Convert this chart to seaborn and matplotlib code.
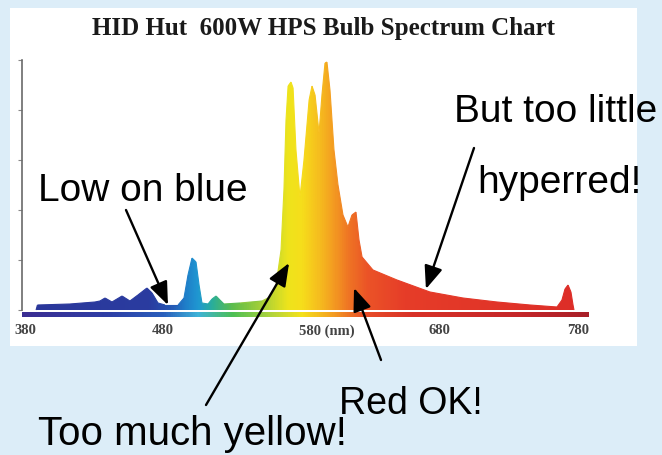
import matplotlib.pyplot as plt
import numpy as np
import seaborn as sns
from matplotlib.collections import LineCollection
from matplotlib.colors import LinearSegmentedColormap

TITLE = "HID Hut  600W HPS Bulb Spectrum Chart"

# spectrum (nm, relative intensity)
WAVELENGTHS = [
    388, 389, 412.5, 430.6, 434.2, 437.9, 442.9, 450.2, 455.9, 461.7,
    468.2, 471.9, 476.2, 481.3, 490.7, 495.0, 497.9, 500.8, 503.7, 505.9,
    508.0, 512.4, 515.3, 518.2, 521.0, 523.9, 535.5, 551.4, 557.2, 561.6,
    565.2, 567.3, 568.8, 570.3, 572.4, 573.9, 576.0, 578.9, 581.8, 585.5,
    587.6, 589.8, 592.7, 594.8, 597.0, 598.4, 600.6, 603.5, 606.4, 610.0,
    613.6, 616.5, 619.4, 621.6, 623.8, 631.7, 649.1, 672.9, 696.8, 721.4,
    745.3, 764.8, 768.4, 770.6, 772.8, 774.9, 776.4, 777.1,
]
INTENSITY = [
    0, 5, 6, 8, 9, 12, 8, 14, 9, 15,
    22, 17, 7, 5, 5, 12, 35, 52, 48, 25,
    7, 6, 11, 14, 10, 6, 7, 9, 13, 25,
    60, 120, 190, 224, 228, 222, 160, 113, 150, 210,
    224, 215, 177, 215, 247, 248, 220, 160, 125, 95,
    83, 95, 98, 70, 53, 40, 30, 18, 12, 8,
    5, 3, 10, 21, 25, 18, 5, 0,
]

TICK_VALUES = [380, 480, 580, 680, 780]
TICK_LABELS = ["380", "480", "580 (nm)", "680", "780"]
LEVEL_TICKS = [0, 50, 100, 150, 200, 250]

FILL_STOPS = [380, 470, 485, 495, 505, 515, 530, 555, 570, 580, 592, 602, 614, 628, 655, 790]
FILL_COLORS = ["#2b379a", "#2a3ca0", "#2556b3", "#1f7cc8", "#1f98d2", "#2aae9a",
               "#5dbd4c", "#b3d334", "#eee41c", "#f6de1b", "#f6bf1e", "#f4a021",
               "#ef7524", "#eb5327", "#e63d29", "#dc2c28"]
BAR_STOPS = [378, 440, 480, 505, 530, 560, 580, 600, 625, 660, 740, 788]
BAR_COLORS = ["#3b2d92", "#2f3fa6", "#2a5fbc", "#3fb3d8", "#4cbf55", "#b7d53a",
              "#f4e21b", "#f5a821", "#e9502a", "#d83228", "#c4262a", "#a81f28"]

ANNOTATIONS = ["Low on blue", "But too little", "hyperred!", "Red OK!", "Too much yellow!"]
ANNOT_POS = [(38, 254), (454, 333), (477, 262), (339, 41), (38, 10)]  # figure pixels
ANNOT_SIZE = [28, 28, 28, 27, 29]
ARROW_TIPS = [(483.4, 5), (571.0, 47), (618.0, 22), (670.0, 21)]  # data
ARROW_TAILS = [(126, 245), (206, 50), (381, 95), (474, 307)]  # figure pixels

BG_COLOR = "#dcedf8"
PX_PER_NM = 1.3825
W, H = 662, 455


def make_cmap(stops, colors):
    lo, hi = stops[0], stops[-1]
    return LinearSegmentedColormap.from_list(
        "spec", [((s - lo) / (hi - lo), c) for s, c in zip(stops, colors)]
    )


sns.set_style("white")
plt.rcParams["font.family"] = ["Liberation Sans", "DejaVu Sans"]

fig = plt.figure(figsize=(W / 100, H / 100), dpi=100)
fig.set_facecolor(BG_COLOR)
ax = fig.add_axes([10 / W, (H - 346) / H, 627 / W, 338 / H])
ax.set_facecolor("white")

# spectrum fill with wavelength gradient
fill_cmap = make_cmap(FILL_STOPS, FILL_COLORS)
poly = ax.fill(WAVELENGTHS, INTENSITY, facecolor="none", edgecolor="none")[0]
grad = np.linspace(0, 1, 800).reshape(1, -1)
img = ax.imshow(grad, cmap=fill_cmap, aspect="auto", interpolation="bilinear",
                extent=[FILL_STOPS[0], FILL_STOPS[-1], 0, 260], zorder=2)
img.set_clip_path(poly)
pts = np.column_stack([WAVELENGTHS, INTENSITY])
segs = np.stack([pts[:-1], pts[1:]], axis=1)
mids = (np.array(WAVELENGTHS[:-1]) + np.array(WAVELENGTHS[1:])) / 2
edge_colors = fill_cmap((mids - FILL_STOPS[0]) / (FILL_STOPS[-1] - FILL_STOPS[0]))
ax.add_collection(LineCollection(segs, colors=edge_colors, linewidths=0.8, zorder=2))

# rainbow bar under the spectrum
bar_cmap = make_cmap(BAR_STOPS, BAR_COLORS)
ax.imshow(grad, cmap=bar_cmap, aspect="auto", interpolation="bilinear",
          extent=[BAR_STOPS[0], BAR_STOPS[-1], -7.5, -2.5], zorder=2)
ax.set_xlim(380 - 15 / PX_PER_NM, 380 + 612 / PX_PER_NM)
ax.set_ylim(-36, 302)

# axes styling
sns.despine(ax=ax, top=True, right=True, bottom=True, left=False)
ax.spines["left"].set_position(("data", 377.8))
ax.spines["left"].set_bounds(0, 250)
ax.spines["left"].set_color("#6a6a6a")
ax.spines["left"].set_linewidth(1.2)
ax.set_yticks(LEVEL_TICKS)
ax.set_yticklabels([])
ax.tick_params(axis="y", left=True, length=3, width=0.8, color="#888888", direction="out")
ax.set_xticks([])
for value, label in zip(TICK_VALUES, TICK_LABELS):
    ax.text(value - (1.5 if label.endswith("(nm)") else 0), -21, label,
            ha="left" if label.endswith("(nm)") else "center", va="center",
            family=["Liberation Serif", "DejaVu Serif"], weight="bold",
            fontsize=10.5, color="#444444")

# title
fig.text(323 / W, 1 - 35 / H, TITLE, ha="center", va="baseline",
         family=["Liberation Serif", "DejaVu Serif"], weight="bold",
         fontsize=18, color="#1a1a1a")

# annotations
for label, (px, py), size in zip(ANNOTATIONS, ANNOT_POS, ANNOT_SIZE):
    fig.text(px / W, py / H, label, ha="left", va="baseline", fontsize=size, color="black")
for tip, tail in zip(ARROW_TIPS, ARROW_TAILS):
    ax.annotate("", xy=tip, xycoords="data", xytext=tail, textcoords="figure pixels",
                arrowprops=dict(arrowstyle="-|>,head_length=0.7,head_width=0.28",
                                mutation_scale=20, color="black", lw=1.7,
                                shrinkA=0, shrinkB=0),
                annotation_clip=False, zorder=5)

fig.savefig("out.png", dpi=100, facecolor=BG_COLOR)
